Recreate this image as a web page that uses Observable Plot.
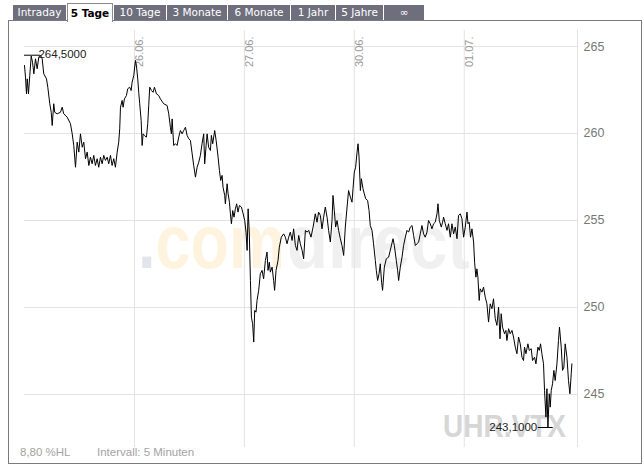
<!DOCTYPE html>
<html><head><meta charset="utf-8">
<script src="https://cdn.jsdelivr.net/npm/d3@7"></script>
<script src="https://cdn.jsdelivr.net/npm/@observablehq/plot@0.6"></script>
<style>
html,body{margin:0;padding:0;background:#fff;}
#wrap{position:relative;width:644px;height:467px;overflow:hidden;font-family:"DejaVu Sans",Verdana,sans-serif;}
#frame{position:absolute;left:8px;top:20px;width:632px;height:442px;border:1px solid #7a7a7a;}
.tab{position:absolute;top:5px;height:15px;background:#6e6e7c;color:#fff;font-size:10.5px;line-height:15px;text-align:center;white-space:nowrap;}
.tab.sel{background:#fff;color:#000;font-weight:bold;border:1px solid #8a8a8a;border-bottom:none;top:3px;height:18px;line-height:19px;}
#chart{position:absolute;left:0;top:0;}
.foot{position:absolute;top:446px;font:11.5px "Liberation Sans",Arial,sans-serif;color:#a3a3a3;}
</style></head>
<body><div id="wrap"><div id="frame"></div><div id="chart"></div></div>
<script>
// ---- data ----
const tabs = ["Intraday", "5 Tage", "10 Tage", "3 Monate", "6 Monate", "1 Jahr", "5 Jahre", "\u221e"];
const selectedTab = "5 Tage";
const dayLabels = ["25.06.", "26.06.", "27.06.", "30.06.", "01.07."];
const yTicks = [245, 250, 255, 260, 265];
const symbol = "UHR.VTX";
const footHL = "8,80 %HL";
const footInterval = "Intervall: 5 Minuten";
// [fraction of trading session, price]
const day25 = [[0,263.91],[0.009,263.24],[0.018,262.28],[0.025,263.14],[0.036,262.28],[0.048,263.33],[0.061,264.45],[0.073,264.10],[0.085,263.43],[0.1,264.29],[0.115,263.72],[0.13,264.39],[0.145,264.50],[0.161,264.29],[0.175,263.43],[0.2,263.14],[0.212,262.66],[0.23,261.71],[0.243,261.22],[0.252,260.46],[0.266,261.71],[0.275,261.22],[0.297,261.13],[0.327,261.22],[0.343,261.51],[0.357,261.13],[0.388,260.94],[0.418,260.56],[0.434,259.98],[0.448,259.31],[0.464,258.06],[0.479,259.50],[0.494,258.93],[0.509,259.98],[0.525,259.21],[0.539,259.50],[0.555,258.55],[0.57,258.93],[0.585,258.16],[0.6,258.64],[0.615,258.26],[0.63,258.74],[0.645,258.16],[0.661,258.55],[0.675,258.06],[0.691,258.64],[0.706,258.26],[0.721,258.74],[0.736,258.45],[0.752,258.64],[0.766,258.26],[0.782,258.74],[0.797,258.16],[0.812,258.55],[0.827,258.06],[0.843,258.93],[0.857,259.50],[0.866,260.27],[0.873,261.51],[0.888,261.90],[0.897,261.51],[0.909,261.99],[0.927,262.18],[0.939,262.57],[0.957,262.66],[0.97,262.47],[0.979,262.95],[0.994,263.33]];
const day26 = [[0.009,264.20],[0.018,263.91],[0.030,263.14],[0.039,262.37],[0.048,261.71],[0.061,260.75],[0.070,259.31],[0.079,259.98],[0.091,259.88],[0.109,259.79],[0.121,260.56],[0.130,261.61],[0.139,262.66],[0.155,262.47],[0.170,262.37],[0.182,262.66],[0.200,262.28],[0.221,262.18],[0.236,261.99],[0.266,261.71],[0.297,261.61],[0.312,261.13],[0.327,260.36],[0.336,259.98],[0.343,260.84],[0.357,259.31],[0.373,259.41],[0.388,259.31],[0.403,259.79],[0.418,260.17],[0.434,259.98],[0.448,260.17],[0.464,260.36],[0.479,259.89],[0.494,259.70],[0.509,259.60],[0.525,258.83],[0.539,258.16],[0.555,257.49],[0.570,258.06],[0.585,258.35],[0.600,258.74],[0.615,259.41],[0.630,259.98],[0.639,258.26],[0.652,259.31],[0.661,259.98],[0.675,259.21],[0.691,259.02],[0.700,259.89],[0.712,259.41],[0.730,260.17],[0.743,259.60],[0.761,258.64],[0.773,257.87],[0.785,257.30],[0.797,257.59],[0.806,256.91],[0.821,256.44],[0.827,255.96],[0.843,257.11],[0.852,256.53],[0.864,256.05],[0.873,255.38],[0.882,254.81],[0.894,255.57],[0.906,255.19],[0.918,255.67],[0.930,255.96],[0.942,255.48],[0.955,255.86],[0.973,255.77],[0.985,255.48]];
const day27 = [[0.003,255.00],[0.015,254.33],[0.025,253.28],[0.034,255.67],[0.045,254.23],[0.055,251.55],[0.064,249.44],[0.075,249.06],[0.085,248.01],[0.094,249.83],[0.106,249.73],[0.115,250.40],[0.130,250.98],[0.145,251.94],[0.161,252.13],[0.175,251.65],[0.191,252.70],[0.206,253.18],[0.215,252.13],[0.227,252.60],[0.236,252.03],[0.252,252.32],[0.266,251.55],[0.275,250.98],[0.288,252.13],[0.306,252.70],[0.318,253.47],[0.336,254.04],[0.357,254.23],[0.373,254.04],[0.388,253.66],[0.403,254.04],[0.418,254.33],[0.434,253.85],[0.448,254.52],[0.464,253.56],[0.479,253.28],[0.494,254.14],[0.509,253.66],[0.525,253.28],[0.539,252.80],[0.555,254.43],[0.570,254.33],[0.585,254.43],[0.606,254.04],[0.625,254.62],[0.645,255.38],[0.661,254.90],[0.675,255.48],[0.691,255.29],[0.706,254.52],[0.721,255.19],[0.736,255.77],[0.752,255.19],[0.766,254.43],[0.782,253.76],[0.797,255.00],[0.806,256.44],[0.818,255.57],[0.830,254.62],[0.843,255.00],[0.857,254.43],[0.873,253.95],[0.888,253.56],[0.903,252.99],[0.918,254.62],[0.934,255.77],[0.948,256.72],[0.964,256.34],[0.979,256.05],[0.988,256.82]];
const day30 = [[0.000,257.78],[0.012,258.06],[0.025,258.93],[0.034,259.41],[0.043,258.64],[0.055,256.72],[0.064,257.40],[0.079,256.82],[0.091,256.53],[0.103,256.25],[0.121,256.15],[0.134,255.57],[0.145,254.71],[0.161,254.43],[0.175,253.66],[0.191,252.70],[0.200,252.13],[0.212,251.55],[0.225,251.94],[0.236,252.51],[0.248,251.45],[0.257,250.98],[0.273,252.32],[0.291,252.80],[0.312,252.89],[0.334,253.47],[0.352,253.95],[0.364,253.56],[0.382,252.70],[0.394,252.13],[0.403,251.55],[0.418,252.32],[0.434,252.89],[0.448,253.56],[0.464,254.04],[0.479,254.43],[0.494,254.33],[0.509,254.62],[0.525,254.71],[0.539,254.14],[0.555,253.56],[0.570,253.66],[0.585,253.76],[0.600,254.23],[0.615,254.71],[0.630,254.23],[0.645,254.04],[0.661,254.33],[0.675,255.00],[0.691,254.81],[0.706,254.52],[0.721,254.81],[0.736,254.90],[0.752,255.38],[0.761,255.96],[0.773,255.00],[0.791,254.62],[0.803,254.90],[0.812,255.19],[0.827,254.81],[0.843,254.43],[0.857,254.81],[0.873,254.04],[0.888,254.81],[0.903,254.23],[0.918,254.62],[0.934,253.95],[0.948,255.29],[0.964,255.38],[0.979,255.10],[0.994,254.04]];
const day01 = [[0.009,254.62],[0.025,255.48],[0.034,254.81],[0.045,254.90],[0.057,254.04],[0.070,254.52],[0.085,253.76],[0.094,252.60],[0.106,251.74],[0.115,252.22],[0.124,251.74],[0.136,250.40],[0.145,251.07],[0.161,250.88],[0.175,251.17],[0.191,250.59],[0.206,250.21],[0.221,249.16],[0.236,250.21],[0.252,249.93],[0.266,250.50],[0.282,249.35],[0.297,248.97],[0.312,250.02],[0.325,248.20],[0.336,249.64],[0.348,248.87],[0.366,248.49],[0.379,248.68],[0.388,248.10],[0.403,248.78],[0.418,248.49],[0.434,248.68],[0.448,248.30],[0.464,247.72],[0.479,247.34],[0.494,248.30],[0.509,247.91],[0.525,247.14],[0.539,246.95],[0.548,247.72],[0.561,247.34],[0.579,247.91],[0.591,247.53],[0.609,247.63],[0.621,246.95],[0.639,247.14],[0.652,246.76],[0.670,247.72],[0.682,247.53],[0.694,247.91],[0.706,247.34],[0.721,246.76],[0.730,245.23],[0.743,243.70],[0.752,245.33],[0.761,243.10],[0.773,245.04],[0.782,244.27],[0.791,245.23],[0.803,245.61],[0.815,246.38],[0.827,245.80],[0.843,246.76],[0.857,248.10],[0.866,248.87],[0.882,247.72],[0.894,246.38],[0.906,246.57],[0.918,247.91],[0.934,247.14],[0.948,245.80],[0.961,245.04],[0.973,246.19],[0.979,246.76]];

// ---- build ----
const days = [day25, day26, day27, day30, day01];
const data = days.flatMap((d, i) => d.map(([f, v]) => ({t: i + f, v})));
const maxP = data[d3.maxIndex(data, d => d.v)];
const minP = data[d3.minIndex(data, d => d.v)];
const fmt = v => v.toFixed(4).replace(".", ",");

// tabs (layout edges in px)
const tabEdges = [13, 67, 114, 167, 228, 291, 336, 384, 425];
const wrap = document.getElementById("wrap");
tabs.forEach((name, i) => {
  const el = document.createElement("div");
  el.className = "tab" + (name === selectedTab ? " sel" : "");
  el.style.left = tabEdges[i] + "px";
  el.style.width = (tabEdges[i + 1] - tabEdges[i] - 1 - (name === selectedTab ? 2 : 0)) + "px";
  el.textContent = name;
  wrap.appendChild(el);
});
[[footHL, 20], [footInterval, 97]].forEach(([txt, left]) => {
  const el = document.createElement("div");
  el.className = "foot"; el.style.left = left + "px"; el.textContent = txt;
  wrap.appendChild(el);
});

function watermark(index, scales, values, dims) {
  const g = d3.create("svg:g").attr("font-family", "'Liberation Sans', Arial, sans-serif")
    .attr("font-weight", "bold").attr("text-anchor", "start");
  const t = g.append("text").attr("x", 138).attr("y", 268).attr("font-size", 76)
    .attr("textLength", 147).attr("lengthAdjust", "spacingAndGlyphs");
  t.append("tspan").attr("fill", "#e4e4ec").text(".");
  t.append("tspan").attr("fill", "#fef3de").text("com");
  g.append("text").attr("x", 287).attr("y", 268).attr("font-size", 76).attr("fill", "#f0f0f0")
    .attr("textLength", 183).attr("lengthAdjust", "spacingAndGlyphs").text("direct");
  g.append("text").attr("x", 443).attr("y", 437).attr("font-size", 31).attr("fill", "#d6d6d6")
    .attr("textLength", 123).attr("lengthAdjust", "spacingAndGlyphs").text(symbol);
  return g.node();
}

const chart = Plot.plot({
  width: 644, height: 467,
  marginLeft: 24, marginRight: 67, marginTop: 30, marginBottom: 20,
  style: {background: "transparent", fontFamily: "'Liberation Sans', Arial, sans-serif"},
  x: {domain: [0, 5.03], axis: null},
  y: {domain: [241.95, 265.92], axis: null},
  marks: [
    watermark,
    Plot.ruleY(yTicks, {stroke: "#e3e3e3"}),
    Plot.ruleX([1, 2, 3, 4, 5.03], {stroke: "#e3e3e3"}),
    Plot.axisY(yTicks, {anchor: "right", tickSize: 0, tickPadding: 6, fontSize: 12.5, color: "#777", label: null, tickFormat: d => String(d)}),
    Plot.text(dayLabels.slice(1), {x: (d, i) => i + 1, frameAnchor: "top", rotate: -90, textAnchor: "end", lineAnchor: "middle", dx: 5, dy: 6, fill: "#999", fontSize: 11}),
    Plot.line(data, {x: "t", y: "v", stroke: "#000", strokeWidth: 1}),
    Plot.ruleY([maxP], {x1: 0, x2: "t", y: "v", stroke: "#000"}),
    Plot.text([maxP], {x: "t", y: "v", text: d => fmt(d.v), textAnchor: "start", dx: -2, dy: -1, fontSize: 11.5, fill: "#222"}),
    Plot.ruleY([minP], {x1: d => d.t - 0.088, x2: d => d.t + 0.048, y: "v", stroke: "#000"}),
    Plot.text([minP], {x: d => d.t - 0.088, y: "v", text: d => fmt(d.v), textAnchor: "end", dx: -1, fontSize: 11.5, fill: "#222"})
  ]
});
document.getElementById("chart").appendChild(chart);
</script></body></html>
